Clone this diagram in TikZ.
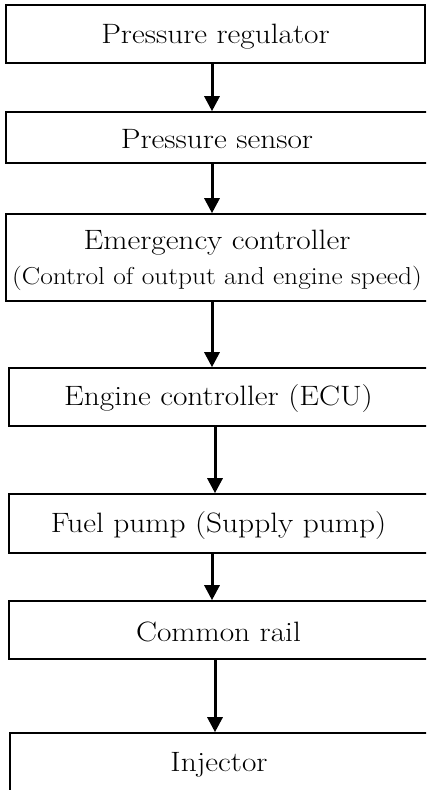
\documentclass[tikz,border=0pt]{standalone}
\usepackage{fontspec}
\setmainfont{Latin Modern Roman}[FakeStretch=1.12]
\usetikzlibrary{arrows.meta}
\newcommand{\lowtext}[2][-2pt]{\raisebox{#1}[\height][\depth]{#2}}
\begin{document}
\begin{tikzpicture}[x=1pt,y=-1pt,
  box/.style={draw=black, line width=1.6pt, rectangle, inner sep=0pt, align=center,
    font=\fontsize{28}{34}\selectfont},
  arr/.style={line width=3pt, -{Triangle[width=15pt,length=15pt]}}]
\useasboundingbox (0,0) rectangle (426,790);
\begin{scope}
\clip (0,0) rectangle (426,790);
\node[box, minimum width=419pt, minimum height=58pt] (b1) at (215.5,34) {\lowtext[-3pt]{Pressure regulator}};
\node[box, minimum width=422pt, minimum height=51pt] (b2) at (217,137.5) {\lowtext{Pressure sensor}};
\node[box, minimum width=422pt, minimum height=87pt] (b3) at (217,257.5) {\lowtext[-3pt]{Emergency controller}\\[1pt]{\fontsize{24.5}{30}\selectfont\lowtext[-3pt]{(Control of output and engine speed)}}};
\node[box, minimum width=419pt, minimum height=58pt] (b4) at (218.5,397) {\lowtext{Engine controller (ECU)}};
\node[box, minimum width=419pt, minimum height=59pt] (b5) at (218.5,523.5) {\lowtext{Fuel pump (Supply pump)}};
\node[box, minimum width=419pt, minimum height=58pt] (b6) at (218.5,630) {\lowtext{Common rail}};
\node[box, minimum width=418pt, minimum height=59pt] (b7) at (219,762.5) {\lowtext{Injector}};
\end{scope}
\coordinate (xa) at (212,0);
\coordinate (xb) at (215,0);
\draw[arr] (b1.south -| xa) -- (b2.north -| xa);
\draw[arr] (b2.south -| xa) -- (b3.north -| xa);
\draw[arr] (b3.south -| xa) -- (b4.north -| xa);
\draw[arr] (b4.south -| xb) -- (b5.north -| xb);
\draw[arr] (b5.south -| xa) -- (b6.north -| xa);
\draw[arr] (b6.south -| xb) -- (b7.north -| xb);
\end{tikzpicture}
\end{document}
